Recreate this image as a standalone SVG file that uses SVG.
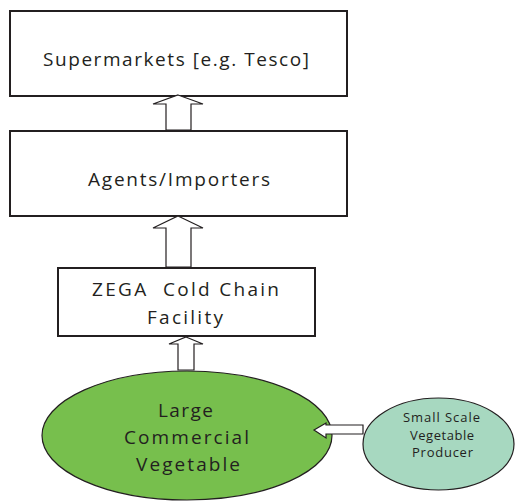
<svg xmlns="http://www.w3.org/2000/svg" width="516" height="501" viewBox="0 0 516 501">
<style>
.box{fill:#fff;stroke:#231f20;stroke-width:2}
.arr{fill:#fff;stroke:#231f20;stroke-width:1.2;stroke-linejoin:miter}
.t{font-family:"Open Sans","Noto Sans","Liberation Sans",sans-serif;fill:#231f20;white-space:pre}
.big{font-size:19px}
.sm{font-size:13px}
</style>
<rect width="516" height="501" fill="#fff"/>
<g id="supermarkets">
<rect class="box" x="10" y="11" width="337" height="85"/>
<text class="t big" x="43" y="66" textLength="266" lengthAdjust="spacing">Supermarkets [e.g. Tesco]</text>
</g>
<g id="agents">
<rect class="box" x="10" y="131" width="337" height="85"/>
<text class="t big" x="88" y="186" textLength="182" lengthAdjust="spacing">Agents/Importers</text>
</g>
<g id="zega">
<rect class="box" x="58" y="268" width="257" height="68"/>
<text class="t big" x="92" y="296" textLength="187" lengthAdjust="spacing">ZEGA  Cold Chain</text>
<text class="t big" x="147" y="324" textLength="76" lengthAdjust="spacing">Facility</text>
</g>
<g id="large">
<ellipse cx="187" cy="435.5" rx="145" ry="64.5" fill="#77bf4d" stroke="#231f20" stroke-width="1.2"/>
<text class="t big" x="158" y="417" textLength="55" lengthAdjust="spacing">Large</text>
<text class="t big" x="124" y="444" textLength="125" lengthAdjust="spacing">Commercial</text>
<text class="t big" x="136" y="471" textLength="104" lengthAdjust="spacing">Vegetable</text>
</g>
<g id="small">
<ellipse cx="438.5" cy="444" rx="75.5" ry="46" fill="#a7d8c0" stroke="#231f20" stroke-width="1.2"/>
<text class="t sm" x="403" y="422" textLength="77" lengthAdjust="spacing">Small Scale</text>
<text class="t sm" x="410" y="440" textLength="64" lengthAdjust="spacing">Vegetable</text>
<text class="t sm" x="412" y="457" textLength="61" lengthAdjust="spacing">Producer</text>
</g>
<g id="connectors">
<polygon class="arr" points="178,95 203,104 191,104 191,130 166,130 166,104 153,104"/>
<polygon class="arr" points="178,216 203,228 191,228 191,267 166,267 166,228 153,228"/>
<polygon class="arr" points="186,337 203,344 194,344 194,370 178,370 178,344 169,344"/>
<polygon class="arr" points="314,430 326,423 326,425 363,425 363,434 326,434 326,438"/>
</g>
</svg>
